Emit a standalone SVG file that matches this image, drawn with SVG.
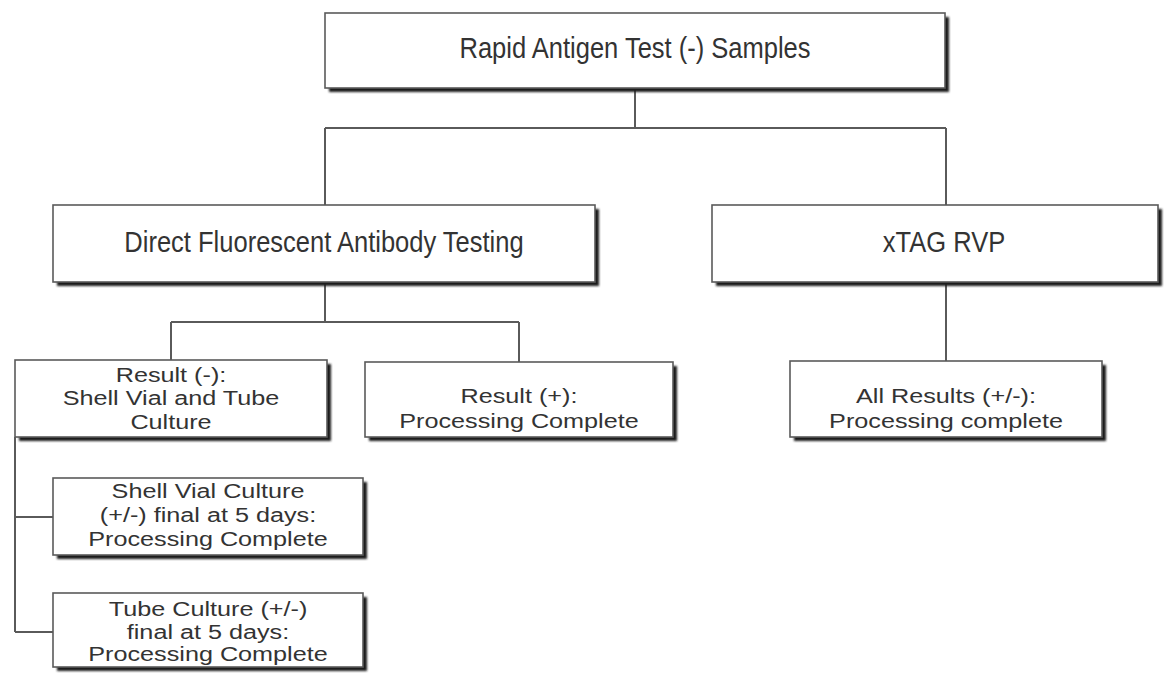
<svg xmlns="http://www.w3.org/2000/svg" width="1166" height="673" viewBox="0 0 1166 673">
<style>
.bg{fill:#fff}
.sh{fill:#1c1c1c;filter:url(#blur)}
.bx{fill:#fff;stroke:#5a5a5a;stroke-width:1.6}
.t{font-family:"Liberation Sans",Arial,sans-serif;font-size:21px;fill:#333;text-anchor:middle}
.t1{font-size:29px}
.ln{stroke:#5a5a5a;stroke-width:2;fill:none}
</style>
<defs><filter id="blur" x="-5%" y="-5%" width="110%" height="110%"><feGaussianBlur stdDeviation="0.9"/></filter></defs>
<rect class="bg" x="0" y="0" width="1166" height="673"/>
<g id="connectors">
<path class="ln" d="M635 88V128M325 128H946M325 128V205M946 128V205"/>
<path class="ln" d="M325 282V322M171 322H519M171 322V360M519 322V362"/>
<path class="ln" d="M946 282V361"/>
<path class="ln" d="M15 437V632M15 517H53M15 632H53"/>
</g>
<g id="n-rapid">
<rect class="sh" x="329" y="17" width="620" height="75"/>
<rect class="bx" x="325" y="13" width="620" height="75"/>
<text class="t t1" transform="translate(635 58) scale(0.88 1)">Rapid Antigen Test (-) Samples</text>
</g>
<g id="n-dfa">
<rect class="sh" x="57" y="209" width="542" height="77"/>
<rect class="bx" x="53" y="205" width="542" height="77"/>
<text class="t t1" transform="translate(324 252) scale(0.88 1)">Direct Fluorescent Antibody Testing</text>
</g>
<g id="n-xtag">
<rect class="sh" x="716" y="209" width="446" height="77"/>
<rect class="bx" x="712" y="205" width="446" height="77"/>
<text class="t t1" transform="translate(944 252) scale(0.88 1)">xTAG RVP</text>
</g>
<g id="n-resneg">
<rect class="sh" x="19" y="364" width="312" height="77"/>
<rect class="bx" x="15" y="360" width="312" height="77"/>
<g transform="translate(171 0) scale(1.2 1)">
<text class="t" x="0" y="382">Result (-):</text>
<text class="t" x="0" y="405">Shell Vial and Tube</text>
<text class="t" x="0" y="429">Culture</text>
</g>
</g>
<g id="n-respos">
<rect class="sh" x="369" y="366" width="308" height="75"/>
<rect class="bx" x="365" y="362" width="308" height="75"/>
<g transform="translate(519 0) scale(1.2 1)">
<text class="t" x="0" y="403">Result (+):</text>
<text class="t" x="0" y="428">Processing Complete</text>
</g>
</g>
<g id="n-all">
<rect class="sh" x="794" y="365" width="312" height="76"/>
<rect class="bx" x="790" y="361" width="312" height="76"/>
<g transform="translate(946 0) scale(1.2 1)">
<text class="t" x="0" y="403">All Results (+/-):</text>
<text class="t" x="0" y="428">Processing complete</text>
</g>
</g>
<g id="n-shell">
<rect class="sh" x="57" y="482" width="310" height="77"/>
<rect class="bx" x="53" y="478" width="310" height="77"/>
<g transform="translate(208 0) scale(1.2 1)">
<text class="t" x="0" y="498">Shell Vial Culture</text>
<text class="t" x="0" y="522">(+/-) final at 5 days:</text>
<text class="t" x="0" y="546">Processing Complete</text>
</g>
</g>
<g id="n-tube">
<rect class="sh" x="57" y="597" width="310" height="74"/>
<rect class="bx" x="53" y="593" width="310" height="74"/>
<g transform="translate(208 0) scale(1.2 1)">
<text class="t" x="0" y="616">Tube Culture (+/-)</text>
<text class="t" x="0" y="639">final at 5 days:</text>
<text class="t" x="0" y="661">Processing Complete</text>
</g>
</g>
</svg>
